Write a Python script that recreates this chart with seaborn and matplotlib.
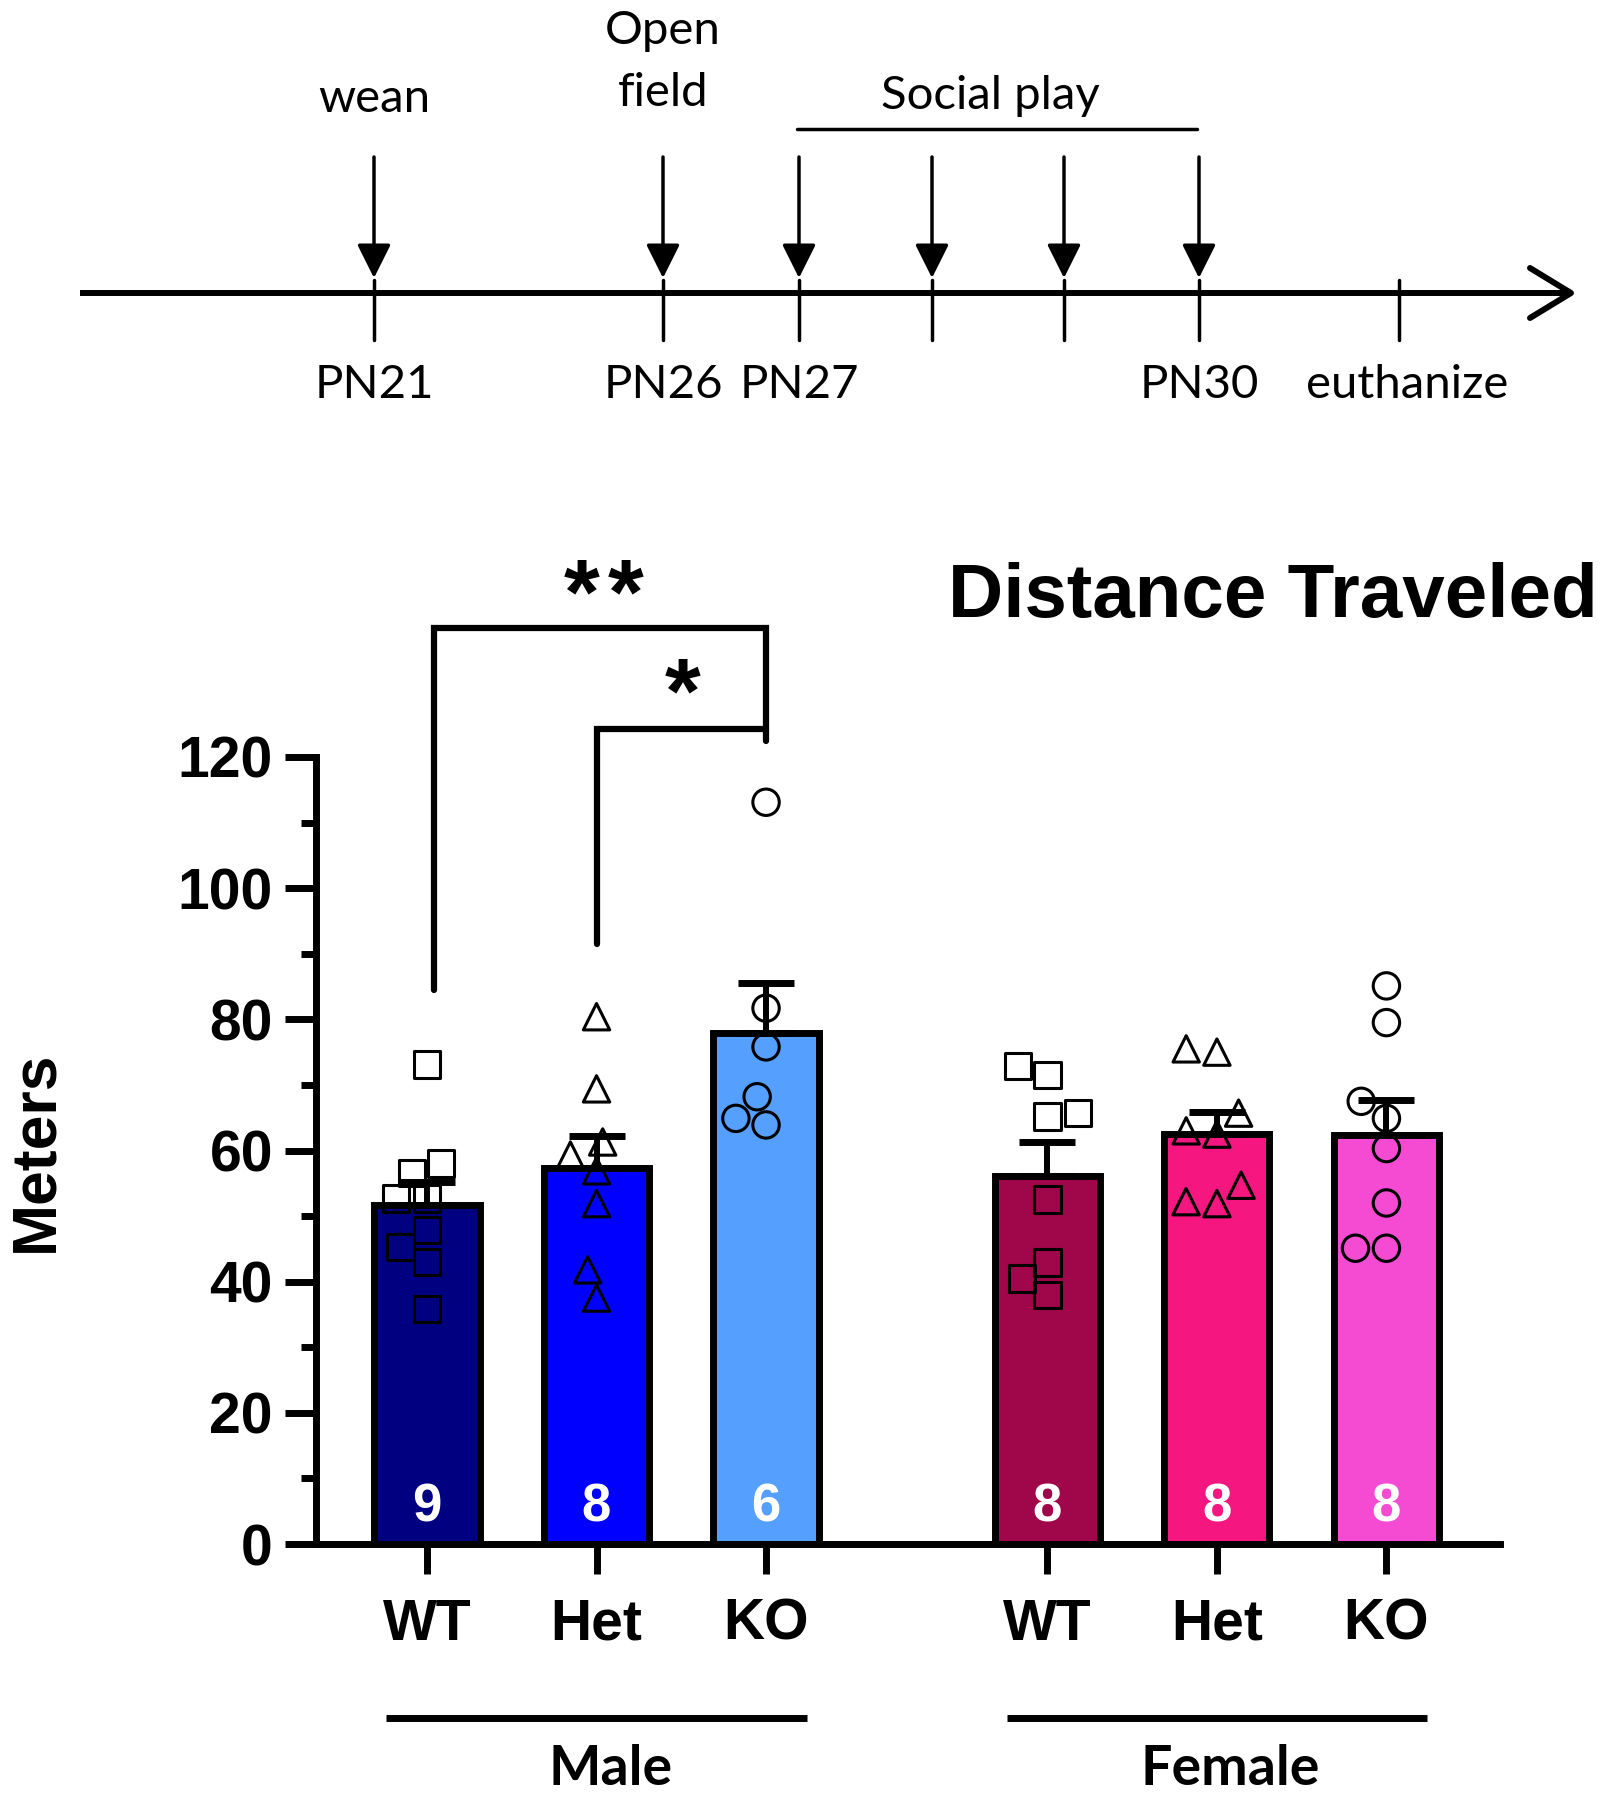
import numpy as np
import pandas as pd
import matplotlib
matplotlib.use("Agg")
import matplotlib.pyplot as plt
import seaborn as sns

# groups
sexes = ["Male", "Female"]
genotypes = ["WT", "Het", "KO"]
markers = ["s", "^", "o"]

# distance traveled in meters (one value per animal)
male_wt = [73.1, 58.0, 56.6, 52.7, 52.7, 47.9, 45.3, 43.0, 35.8]
male_het = [80.4, 69.4, 59.3, 61.3, 56.9, 51.9, 41.8, 37.5]
male_ko = [113.1, 81.7, 75.8, 68.2, 63.9, 64.9]
female_wt = [72.9, 71.5, 65.7, 65.2, 52.5, 42.9, 40.5, 38.0]
female_het = [75.0, 75.5, 65.7, 63.0, 62.5, 54.7, 51.9, 52.2]
female_ko = [85.1, 79.5, 67.5, 64.9, 60.3, 52.0, 45.1, 45.1]

bar_colors = ["#000080", "#0000FF", "#559FFF", "#A0064A", "#F5177F", "#F54BD3"]

# timeline labels
tl_labels = ["PN21", "PN26", "PN27", "", "", "PN30", "euthanize"]

# build the table
rows = []
all_groups = [[male_wt, male_het, male_ko], [female_wt, female_het, female_ko]]
for sex, groups in zip(sexes, all_groups):
    for g, vals in zip(genotypes, groups):
        for v in vals:
            rows.append({"sex": sex, "genotype": g, "value": v})
df = pd.DataFrame(rows)
df["group"] = df["sex"] + " " + df["genotype"]
gap = 0.66
df["pos"] = df["genotype"].map({g: i for i, g in enumerate(genotypes)}) + \
    df["sex"].map({"Male": 0.0, "Female": 3 + gap})

W, H = 1607, 1800
sns.set_style("ticks")
plt.rcParams["font.family"] = ["Liberation Sans", "DejaVu Sans"]
for k in ["text.color", "axes.labelcolor", "xtick.color", "ytick.color",
          "axes.edgecolor"]:
    plt.rcParams[k] = "black"

fig = plt.figure(figsize=(W / 100, H / 100), dpi=100)

# ---------------- timeline (drawn in pixel coords) ----------------
axt = fig.add_axes([0, 1 - 430 / H, 1, 430 / H])
axt.set_xlim(0, W)
axt.set_ylim(430, 0)
axt.axis("off")
tl_x = [374, 663, 799, 932, 1064, 1199, 1399]
tfont = dict(family=["Lato", "DejaVu Sans"], fontsize=34)
axt.plot([80, 1568], [293, 293], color="black", lw=4.3, solid_capstyle="butt")
axt.plot([1530, 1571, 1530], [268, 293, 318], color="black", lw=4.3)
for i, x in enumerate(tl_x):
    axt.plot([x, x], [280, 340], color="black", lw=2.5)
    axt.text(x + (8 if i == 6 else 0), 385, tl_labels[i], ha="center",
             va="center", **tfont)
    if i < 6:
        axt.annotate("", xy=(x, 278), xytext=(x, 157),
                     arrowprops=dict(arrowstyle="-|>", lw=2.5, color="black",
                                     shrinkA=0, shrinkB=0, mutation_scale=52))
axt.text(tl_x[0], 99, "wean", ha="center", va="center", **tfont)
axt.text(tl_x[1], 31, "Open", ha="center", va="center", **tfont)
axt.text(tl_x[1], 93, "field", ha="center", va="center", **tfont)
axt.plot([797, 1197], [129, 129], color="black", lw=2.5)
axt.text(990, 96, "Social play", ha="center", va="center", **tfont)

# ---------------- bar chart ----------------
ax = fig.add_axes([316 / W, 1 - 1544 / H, (1500 - 316) / W, (1544 - 757) / H])

sns.barplot(data=df, x="pos", y="value", hue="group",
            hue_order=list(df["group"].unique()), palette=bar_colors,
            saturation=1, native_scale=True, errorbar=None, dodge=False,
            width=0.62, edgecolor="black", linewidth=5, legend=False, ax=ax)

stats = df.groupby("pos")["value"].agg(["mean", "sem", "count"]).reset_index()
ax.errorbar(stats["pos"], stats["mean"],
            yerr=[np.zeros(len(stats)), stats["sem"]], fmt="none",
            ecolor="black", elinewidth=4.3, capsize=20, capthick=5, zorder=4)

for g, m in zip(genotypes, markers):
    n_before = len(ax.collections)
    sns.swarmplot(data=df[df["genotype"] == g], x="pos", y="value",
                  native_scale=True, marker=m, size=19, color="white",
                  edgecolor="black", linewidth=2.2, ax=ax, zorder=5)
    for coll in ax.collections[n_before:]:
        coll.set_facecolor("none")
        coll.set_edgecolor("black")
        coll.set_linewidth(2.2)

# n per group
for _, r in stats.iterrows():
    ax.text(r["pos"], 5.6, str(int(r["count"])), color="white", ha="center",
            va="center", fontsize=38, fontweight="bold", zorder=6)

ax.set_xlim(-0.655, 6.33)
ax.set_ylim(0, 120)
ax.set_yticks(np.arange(0, 121, 20))
ax.set_yticks(np.arange(10, 120, 20), minor=True)
ax.set_xticks(stats["pos"])
ax.set_xticklabels(genotypes * 2)
ax.set_xlabel("")
ax.set_ylabel("")
sns.despine(ax=ax)
for s in ["left", "bottom"]:
    ax.spines[s].set_linewidth(5)
ax.tick_params(axis="y", which="major", length=22, width=5, pad=9,
               labelsize=41)
ax.tick_params(axis="y", which="minor", length=11, width=5)
ax.tick_params(axis="x", length=21.6, width=5, pad=17, labelsize=41)
for lab in ax.get_xticklabels() + ax.get_yticklabels():
    lab.set_fontweight("bold")

# significance brackets
blw = 4.5
ax.plot([0.04, 0.04, 2, 2], [84.5, 139.6, 139.6, 122.5], color="black",
        lw=blw, clip_on=False, solid_joinstyle="miter")
ax.plot([1, 1, 2], [91.5, 124.3, 124.3], color="black", lw=blw,
        clip_on=False, solid_joinstyle="miter")
for sx in [0.91, 1.17]:
    ax.text(sx, 144.1, "*", ha="center", va="center", fontsize=66,
            fontweight="bold")
ax.text(1.51, 129.0, "*", ha="center", va="center", fontsize=66,
        fontweight="bold")

# sex group lines and labels
for sex in sexes:
    p = df.loc[df["sex"] == sex, "pos"]
    ax.plot([p.min() - 0.24, p.max() + 0.24], [-26.5, -26.5], color="black",
            lw=5, clip_on=False, solid_capstyle="butt")
    ax.text((p.min() + p.max()) / 2 + 0.08, -34.3, sex, ha="center",
            va="center", fontsize=40, fontweight="bold",
            family=["Lato", "DejaVu Sans"])

fig.text(1598 / W, 1 - 597 / H, "Distance Traveled", ha="right", va="center",
         fontsize=55, fontweight="bold")
fig.text(36 / W, 1 - 1151 / H, "Meters", rotation=90, ha="center",
         va="center", fontsize=45, fontweight="bold")

fig.savefig("out.png", dpi=100)
